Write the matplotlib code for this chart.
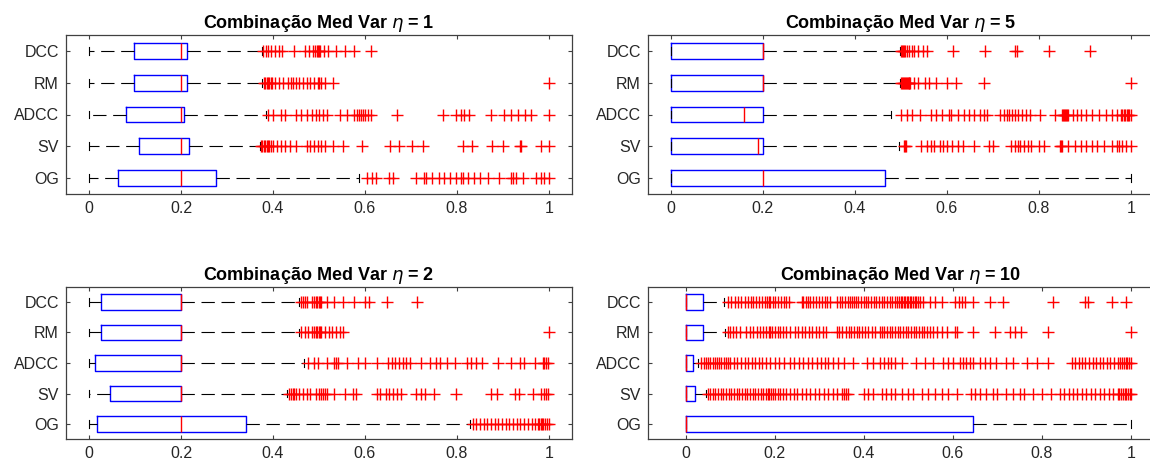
import matplotlib
matplotlib.use("Agg")
import matplotlib.pyplot as plt

plt.rcParams['font.family'] = ['Liberation Sans', 'DejaVu Sans']
plt.rcParams['mathtext.fontset'] = 'dejavusans'

labels = ['DCC', 'RM', 'ADCC', 'SV', 'OG']
xticks = [0, 0.2, 0.4, 0.6, 0.8, 1]

# eta = 1
q1_eta1 = [0.098, 0.098, 0.081, 0.108, 0.064]
med_eta1 = [0.2, 0.2, 0.2, 0.2, 0.2]
q3_eta1 = [0.212, 0.212, 0.207, 0.217, 0.275]
lo_eta1 = [0, 0, 0, 0, 0]
hi_eta1 = [0.375, 0.377, 0.385, 0.371, 0.587]
out_eta1 = [
    [0.379, 0.385, 0.39, 0.396, 0.404, 0.412, 0.42, 0.445, 0.469, 0.478, 0.488, 0.492, 0.495,
     0.497, 0.5, 0.502, 0.51, 0.52, 0.537, 0.557, 0.577, 0.612],
    [0.38, 0.383, 0.386, 0.389, 0.392, 0.395, 0.398, 0.405, 0.413, 0.421, 0.433, 0.44, 0.443,
     0.449, 0.457, 0.465, 0.473, 0.481, 0.489, 0.497, 0.501, 0.505, 0.513, 0.53, 1.0],
    [0.389, 0.401, 0.417, 0.425, 0.449, 0.461, 0.473, 0.485, 0.493, 0.501, 0.509, 0.517, 0.545,
     0.561, 0.577, 0.583, 0.587, 0.591, 0.595, 0.6, 0.607, 0.614, 0.669, 0.77, 0.798, 0.808,
     0.815, 0.827, 0.874, 0.903, 0.918, 0.932, 0.947, 0.961, 1.0],
    [0.373, 0.377, 0.38, 0.383, 0.386, 0.389, 0.392, 0.395, 0.4, 0.409, 0.417, 0.425, 0.437,
     0.449, 0.473, 0.481, 0.489, 0.497, 0.505, 0.513, 0.53, 0.553, 0.593, 0.654, 0.674, 0.703,
     0.725, 0.812, 0.833, 0.876, 0.901, 0.936, 0.94, 0.983, 1.0],
    [0.605, 0.616, 0.623, 0.652, 0.66, 0.71, 0.728, 0.732, 0.745, 0.76, 0.772, 0.785, 0.798,
     0.808, 0.812, 0.823, 0.838, 0.849, 0.867, 0.891, 0.918, 0.922, 0.929, 0.943, 0.972, 0.983,
     0.99, 1.0],
]

# eta = 5
q1_eta5 = [0, 0, 0, 0, 0]
med_eta5 = [0.2, 0.2, 0.159, 0.189, 0.2]
q3_eta5 = [0.2, 0.2, 0.2, 0.2, 0.466]
lo_eta5 = [0, 0, 0, 0, 0]
hi_eta5 = [0.499, 0.499, 0.479, 0.496, 1.0]
out_eta5 = [
    [0.501, 0.503, 0.505, 0.507, 0.509, 0.513, 0.517, 0.525, 0.529, 0.537, 0.549, 0.557, 0.613,
     0.684, 0.748, 0.752, 0.823, 0.911],
    [0.501, 0.503, 0.505, 0.507, 0.509, 0.511, 0.513, 0.515, 0.517, 0.519, 0.521, 0.529, 0.537,
     0.553, 0.561, 0.577, 0.6, 0.62, 0.68, 1.0],
    [0.501, 0.513, 0.525, 0.541, 0.565, 0.577, 0.589, 0.605, 0.609, 0.625, 0.637, 0.648, 0.66,
     0.672, 0.68, 0.688, 0.716, 0.724, 0.73, 0.736, 0.741, 0.748, 0.756, 0.764, 0.772, 0.78,
     0.803, 0.835, 0.851, 0.853, 0.855, 0.857, 0.859, 0.861, 0.863, 0.875, 0.883, 0.891, 0.903,
     0.915, 0.931, 0.947, 0.959, 0.971, 0.979, 0.982, 0.985, 0.988, 0.991, 0.994, 0.997, 1.0],
    [0.507, 0.509, 0.512, 0.545, 0.557, 0.565, 0.573, 0.585, 0.593, 0.6, 0.612, 0.624, 0.636,
     0.66, 0.692, 0.7, 0.74, 0.748, 0.756, 0.76, 0.768, 0.776, 0.784, 0.8, 0.811, 0.847, 0.849,
     0.851, 0.863, 0.879, 0.891, 0.903, 0.915, 0.927, 0.943, 0.959, 0.97, 0.975, 0.98, 0.99, 1.0],
    [],
]

# eta = 2
q1_eta2 = [0.026, 0.027, 0.014, 0.045, 0.017]
med_eta2 = [0.2, 0.2, 0.2, 0.2, 0.2]
q3_eta2 = [0.2, 0.2, 0.2, 0.2, 0.342]
lo_eta2 = [0, 0, 0, 0, 0]
hi_eta2 = [0.457, 0.457, 0.467, 0.431, 0.828]
out_eta2 = [
    [0.461, 0.465, 0.469, 0.473, 0.485, 0.489, 0.493, 0.496, 0.499, 0.502, 0.505, 0.517, 0.533,
     0.553, 0.577, 0.601, 0.608, 0.648, 0.714],
    [0.461, 0.469, 0.477, 0.485, 0.489, 0.493, 0.496, 0.499, 0.502, 0.505, 0.513, 0.521, 0.529,
     0.537, 0.545, 0.553, 1.0],
    [0.477, 0.489, 0.497, 0.517, 0.533, 0.537, 0.541, 0.561, 0.585, 0.601, 0.625, 0.65, 0.658,
     0.666, 0.674, 0.682, 0.69, 0.698, 0.722, 0.742, 0.754, 0.762, 0.778, 0.795, 0.822, 0.83,
     0.842, 0.854, 0.89, 0.918, 0.938, 0.946, 0.97, 0.986, 0.99, 0.994, 0.998],
    [0.435, 0.439, 0.443, 0.446, 0.449, 0.457, 0.465, 0.473, 0.481, 0.493, 0.501, 0.505, 0.509,
     0.513, 0.517, 0.533, 0.557, 0.573, 0.581, 0.625, 0.633, 0.645, 0.653, 0.661, 0.669, 0.678,
     0.71, 0.722, 0.73, 0.75, 0.798, 0.874, 0.886, 0.926, 0.934, 0.966, 0.982, 0.99, 0.994, 0.998],
    [0.834, 0.842, 0.85, 0.858, 0.866, 0.874, 0.882, 0.89, 0.898, 0.906, 0.914, 0.922, 0.93,
     0.938, 0.946, 0.954, 0.962, 0.97, 0.976, 0.979, 0.982, 0.985, 0.988, 0.992, 0.996, 1.0],
]

# eta = 10
q1_eta10 = [0, 0, 0, 0, 0]
med_eta10 = [0, 0, 0, 0, 0]
q3_eta10 = [0.039, 0.039, 0.015, 0.02, 0.645]
lo_eta10 = [0, 0, 0, 0, 0]
hi_eta10 = [0.086, 0.088, 0.028, 0.045, 1.0]
out_eta10 = [
    [0.095, 0.102, 0.11, 0.118, 0.125, 0.132, 0.14, 0.146, 0.152, 0.158, 0.165, 0.172, 0.178,
     0.183, 0.188, 0.19, 0.195, 0.2, 0.207, 0.214, 0.22, 0.226, 0.232, 0.26, 0.264, 0.27, 0.275,
     0.28, 0.286, 0.292, 0.3, 0.306, 0.312, 0.318, 0.325, 0.34, 0.346, 0.352, 0.358, 0.364, 0.37,
     0.374, 0.378, 0.382, 0.388, 0.394, 0.4, 0.405, 0.41, 0.416, 0.422, 0.428, 0.434, 0.44,
     0.446, 0.452, 0.458, 0.464, 0.47, 0.475, 0.48, 0.483, 0.486, 0.49, 0.493, 0.496, 0.5,
     0.503, 0.506, 0.51, 0.514, 0.518, 0.522, 0.527, 0.533, 0.548, 0.56, 0.575, 0.605, 0.613,
     0.62, 0.628, 0.645, 0.683, 0.713, 0.825, 0.897, 0.904, 0.957, 0.99],
    [0.095, 0.1, 0.106, 0.112, 0.121, 0.136, 0.144, 0.152, 0.16, 0.166, 0.174, 0.18, 0.186,
     0.19, 0.194, 0.2, 0.206, 0.212, 0.218, 0.226, 0.234, 0.245, 0.252, 0.26, 0.268, 0.276,
     0.284, 0.292, 0.3, 0.308, 0.316, 0.339, 0.345, 0.352, 0.36, 0.366, 0.372, 0.378, 0.384,
     0.39, 0.396, 0.402, 0.41, 0.418, 0.426, 0.436, 0.44, 0.446, 0.452, 0.458, 0.464, 0.47,
     0.476, 0.482, 0.488, 0.494, 0.5, 0.506, 0.512, 0.518, 0.524, 0.53, 0.536, 0.541, 0.548,
     0.556, 0.565, 0.575, 0.586, 0.605, 0.61, 0.646, 0.694, 0.728, 0.74, 0.754, 0.814, 1.0],
    [0.035, 0.04, 0.045, 0.05, 0.055, 0.06, 0.065, 0.07, 0.075, 0.08, 0.085, 0.09, 0.095, 0.1,
     0.108, 0.116, 0.124, 0.132, 0.14, 0.148, 0.156, 0.164, 0.172, 0.18, 0.19, 0.2, 0.21, 0.22,
     0.234, 0.244, 0.254, 0.264, 0.274, 0.284, 0.294, 0.304, 0.312, 0.32, 0.33, 0.342, 0.356,
     0.376, 0.406, 0.42, 0.436, 0.446, 0.454, 0.462, 0.47, 0.485, 0.518, 0.538, 0.556, 0.578,
     0.59, 0.6, 0.615, 0.622, 0.63, 0.638, 0.646, 0.66, 0.672, 0.684, 0.696, 0.72, 0.735, 0.766,
     0.788, 0.814, 0.867, 0.875, 0.883, 0.89, 0.898, 0.906, 0.914, 0.922, 0.93, 0.938, 0.946,
     0.954, 0.962, 0.97, 0.976, 0.98, 0.984, 0.988, 0.992, 0.996, 1.0],
    [0.05, 0.055, 0.06, 0.066, 0.072, 0.078, 0.084, 0.09, 0.096, 0.102, 0.108, 0.114, 0.12,
     0.126, 0.132, 0.138, 0.144, 0.15, 0.156, 0.162, 0.168, 0.174, 0.18, 0.184, 0.188, 0.192,
     0.196, 0.2, 0.206, 0.212, 0.218, 0.226, 0.234, 0.242, 0.25, 0.26, 0.27, 0.28, 0.29, 0.3,
     0.31, 0.32, 0.33, 0.34, 0.35, 0.356, 0.36, 0.365, 0.4, 0.41, 0.42, 0.44, 0.45, 0.46, 0.47,
     0.485, 0.5, 0.51, 0.53, 0.545, 0.56, 0.575, 0.59, 0.61, 0.64, 0.65, 0.66, 0.675, 0.69, 0.7,
     0.72, 0.735, 0.75, 0.76, 0.78, 0.8, 0.82, 0.84, 0.85, 0.86, 0.87, 0.88, 0.89, 0.9, 0.91,
     0.92, 0.93, 0.94, 0.95, 0.96, 0.97, 0.974, 0.978, 0.982, 0.986, 0.99, 0.994, 0.998, 1.0],
    [],
]

etas = [1, 5, 2, 10]
panels = [
    (q1_eta1, med_eta1, q3_eta1, lo_eta1, hi_eta1, out_eta1),
    (q1_eta5, med_eta5, q3_eta5, lo_eta5, hi_eta5, out_eta5),
    (q1_eta2, med_eta2, q3_eta2, lo_eta2, hi_eta2, out_eta2),
    (q1_eta10, med_eta10, q3_eta10, lo_eta10, hi_eta10, out_eta10),
]

W, H = 1150, 468
# axes rectangles in pixels: left, top, right, bottom
rects = [(66, 34.7, 572, 194.3), (647.7, 34.7, 1153.7, 194.3),
         (66, 286.7, 572, 439.3), (648, 286.7, 1154, 439.3)]
xlims = [(-0.05, 1.05), (-0.05, 1.05), (-0.05, 1.05), (-0.085, 1.052)]

fig = plt.figure(figsize=(W / 100, H / 100), dpi=100)
axis_col = '0.25'

for eta, data, r, xl in zip(etas, panels, rects, xlims):
    q1, med, q3, lo, hi, out = data
    ax = fig.add_axes([r[0] / W, 1 - r[3] / H, (r[2] - r[0]) / W, (r[3] - r[1]) / H])
    stats = []
    for i, lab in enumerate(labels):
        stats.append(dict(label=lab, q1=q1[i], med=med[i], q3=q3[i],
                          whislo=lo[i], whishi=hi[i], fliers=out[i]))
    ax.bxp(stats, positions=range(1, 6), widths=0.5, orientation='horizontal',
           boxprops=dict(color='#0000ff', linewidth=1.0),
           medianprops=dict(color='#ff0000', linewidth=1.0),
           whiskerprops=dict(color='black', linewidth=0.8, linestyle=(0, (12, 6))),
           capprops=dict(color='black', linewidth=0.8),
           flierprops=dict(marker='+', markeredgecolor='#ff0000', markersize=8.5,
                           markeredgewidth=1.0, linestyle='none'))
    ax.set_xlim(*xl)
    ax.set_ylim(5.5, 0.5)
    ax.set_xticks(xticks)
    ax.set_xticklabels(['0', '0.2', '0.4', '0.6', '0.8', '1'])
    ax.tick_params(direction='in', top=True, right=True, length=3, width=0.8,
                   color=axis_col, labelcolor='0.15', labelsize=11.5, pad=5)
    for s in ax.spines.values():
        s.set_color(axis_col)
        s.set_linewidth(0.9)
    ax.set_title(r'Combinação Med Var $\eta$ = %d' % eta, fontsize=13,
                 fontweight='bold', pad=5)

fig.savefig('out.png', dpi=100)
